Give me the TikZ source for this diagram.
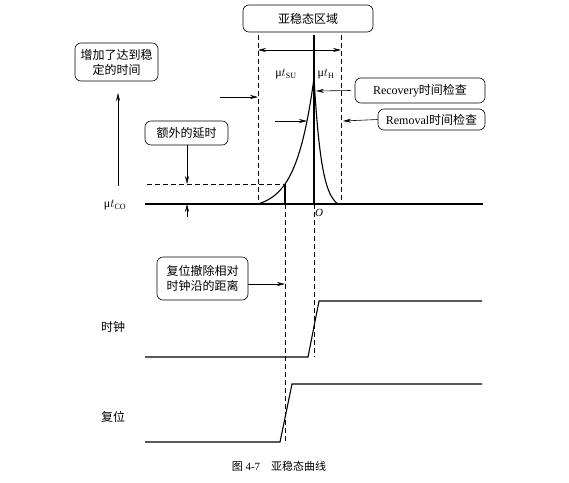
\documentclass[tikz,border=0pt]{standalone}
\usepackage{fontspec}
\setmainfont{Liberation Serif}
\newfontfamily\cjk{Noto Sans CJK SC}
\usetikzlibrary{arrows.meta}
\tikzset{
  note/.style={draw, rounded corners=6pt, line width=0.6pt, inner sep=2pt, align=center, font=\fontsize{12}{15}\selectfont\cjk},
  guide/.style={dashed, line width=0.5pt, dash pattern=on 5pt off 3pt},
  sig/.style={line width=1.1pt},
  pin/.style={line width=0.6pt, -{Stealth[length=8pt,width=4pt]}},
  lbl/.style={font=\fontsize{12}{14}\selectfont\cjk}
}
\begin{document}
\begin{tikzpicture}[x=1pt,y=-1pt]
\useasboundingbox (0,0) rectangle (569,482);
\node[note, minimum width=130pt, minimum height=27pt] (zone) at (308,18.5){亚稳态区域};
\node[note, minimum width=83pt, minimum height=38pt] (more) at (116.5,62){增加了达到稳\\定的时间};
\node[note, minimum width=83pt, minimum height=24pt] (extra) at (186.5,133){额外的延时};
\node[note, minimum width=130pt, minimum height=25pt] (rec) at (420,90.5){\rmfamily Recovery\cjk 时间检查};
\node[note, minimum width=107pt, minimum height=21pt] (rem) at (431.5,119.5){\rmfamily Removal\cjk 时间检查};
\node[note, minimum width=91pt, minimum height=43pt] (dist) at (202.5,278.5){复位撤除相对\\时钟沿的距离};
\node[font=\fontsize{12}{14}\selectfont] (tsu) at (286,74){μ$t_{\mathrm{SU}}$};
\node[font=\fontsize{12}{14}\selectfont] (th) at (326,74){μ$t_{\mathrm{H}}$};
\node[font=\fontsize{12}{14}\selectfont] (tco) at (115,205){μ$t_{\mathrm{CO}}$};
\node[font=\fontsize{11}{13}\selectfont] (orig) at (319,213){\textit{O}};
\node[lbl] (clk) at (113,327){时钟};
\node[lbl] (rst) at (113,417){复位};
\node[font=\fontsize{11}{13}\selectfont] (cap) at (279,466){{\cjk 图} 4-7\quad{\cjk 亚稳态曲线}};
\coordinate (suL) at (258,35);
\coordinate (suB) at (258,204);
\coordinate (hL) at (341,35);
\coordinate (hB) at (341,204);
\coordinate (top) at (314,35);
\coordinate (o) at (314,204);
\coordinate (b0) at (145,204);
\coordinate (b1) at (483,204);
\coordinate (d0) at (147,184);
\coordinate (d1) at (285,184);
\coordinate (d2) at (285,204);
\coordinate (clkup) at (314,357);
\coordinate (rstup) at (285,442);
% window lines
\draw[guide] (suL) -- (suB);
\draw[guide] (hL) -- (hB);
\draw[guide] (d0) -- (d1);
\draw[guide] (d2) -- (rstup);
\draw[guide] (o) -- (clkup);
% curve
\draw[sig] (b0) -- (b1);
\draw[sig] (top) -- (o);
\draw[sig] (d1) -- (d2);
\draw[sig, samples=60, domain=258:314] plot (\x, {204-5.56*(exp(0.0565*(\x-258))-1)});
\draw[sig, samples=60, domain=258:314] plot ({314+(314-\x)*24/56}, {204-5.56*(exp(0.0565*(\x-258))-1)});
% arrows
\coordinate (w0) at (258,50);
\coordinate (w1) at (341,50);
\draw[pin, {Stealth[length=8pt,width=4pt]}-{Stealth[length=8pt,width=4pt]}] (w0) -- (w1);
\coordinate (a0) at (220,97);
\coordinate (a1) at (258,97);
\draw[pin] (a0) -- (a1);
\coordinate (a2) at (316,91);
\draw[pin] (rec.west) ++(-4,0) -- (a2);
\coordinate (a3) at (275,121);
\coordinate (a4) at (307,121);
\draw[pin] (a3) -- (a4);
\coordinate (a5) at (343,121);
\draw[pin] (rem.west) -- (a5);
\coordinate (a6) at (118,186);
\coordinate (a7) at (118,93);
\draw[pin] (a6) -- (a7);
\coordinate (a8) at (187,184);
\draw[pin] (extra.south -| a8) -- (a8);
\coordinate (a9) at (187,217);
\coordinate (a10) at (187,204);
\draw[pin] (a9) -- (a10);
\coordinate (a11) at (285,284);
\draw[pin] (dist.east |- a11) -- (a11);
% waveforms
\draw[sig] (145,357) -- (308,357) -- (319,301) -- (482,301);
\draw[sig] (145,442) -- (280,442) -- (292,384) -- (482,384);
\end{tikzpicture}
\end{document}
